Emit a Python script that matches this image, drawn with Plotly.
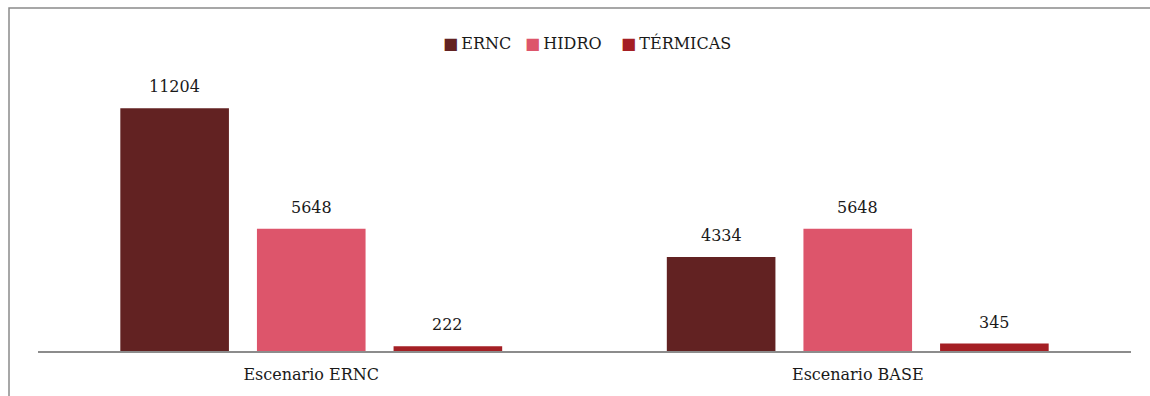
import plotly.graph_objects as go

# Installed capacity by scenario and technology
categories = ["Escenario ERNC", "Escenario BASE"]
series_names = ["ERNC", "HIDRO", "TÉRMICAS"]
ernc = [11204, 4334]
hidro = [5648, 5648]
termicas = [222, 345]
colors = ["#622222", "#DD556B", "#A41F24"]

W, H = 1150, 396
ml, mr, mt, mb = 38, 19, 91, 45
font_family = "DejaVu Serif"
bargap = 0.25

fig = go.Figure()
values = [ernc, hidro, termicas]
for name, vals, col in zip(series_names, values, colors):
    fig.add_trace(go.Bar(
        name=name, x=categories, y=vals,
        marker=dict(color=col, line=dict(width=0)),
        showlegend=False,
    ))

pw = W - ml - mr
ph = H - mt - mb

def py(px):
    """pixel row -> paper y"""
    return (H - mb - px) / ph

def px_(x):
    """pixel column -> paper x"""
    return (x - ml) / pw

# value labels above each bar (grouped positions in category units)
n = len(series_names)
slot = (1 - bargap) / n
annotations = []
for k, vals in enumerate(values):
    off = (k - (n - 1) / 2) * slot
    for i, v in enumerate(vals):
        annotations.append(dict(
            x=i + off, y=v, xref="x", yref="y", text=str(v),
            showarrow=False, yanchor="bottom", yshift=10,
            font=dict(family=font_family, size=16, color="#1a1a1a"),
        ))

# legend row: coloured square + series name
legend_x = [441, 523, 619]
for name, col, lx in zip(series_names, colors, legend_x):
    annotations.append(dict(
        x=px_(lx), y=py(43), xref="paper", yref="paper",
        xanchor="left", yanchor="middle", showarrow=False,
        text=f"<span style='color:{col};font-size:16px'>■</span>\u2009{name}",
        font=dict(family=font_family, size=16, color="#1a1a1a"),
    ))

fig.update_layout(
    width=W, height=H,
    margin=dict(l=ml, r=mr, t=mt, b=mb),
    paper_bgcolor="white", plot_bgcolor="white",
    barmode="group", bargap=bargap, bargroupgap=0.205,
    font=dict(family=font_family, size=16, color="#1a1a1a"),
    showlegend=False,
    annotations=annotations,
    shapes=[dict(type="rect", xref="paper", yref="paper",
                 x0=px_(9), x1=px_(W + 20),
                 y0=py(H + 20), y1=py(8),
                 line=dict(color="#8a8a8a", width=1.5), fillcolor="rgba(0,0,0,0)",
                 layer="below")],
)
fig.update_xaxes(showline=True, linecolor="#8c8c8c", linewidth=1.5,
                 ticks="", showgrid=False, ticklabelstandoff=8,
                 tickfont=dict(family=font_family, size=16, color="#1a1a1a"))
fig.update_yaxes(range=[0, 12000], visible=False, showgrid=False)

fig.write_html("out.html")
